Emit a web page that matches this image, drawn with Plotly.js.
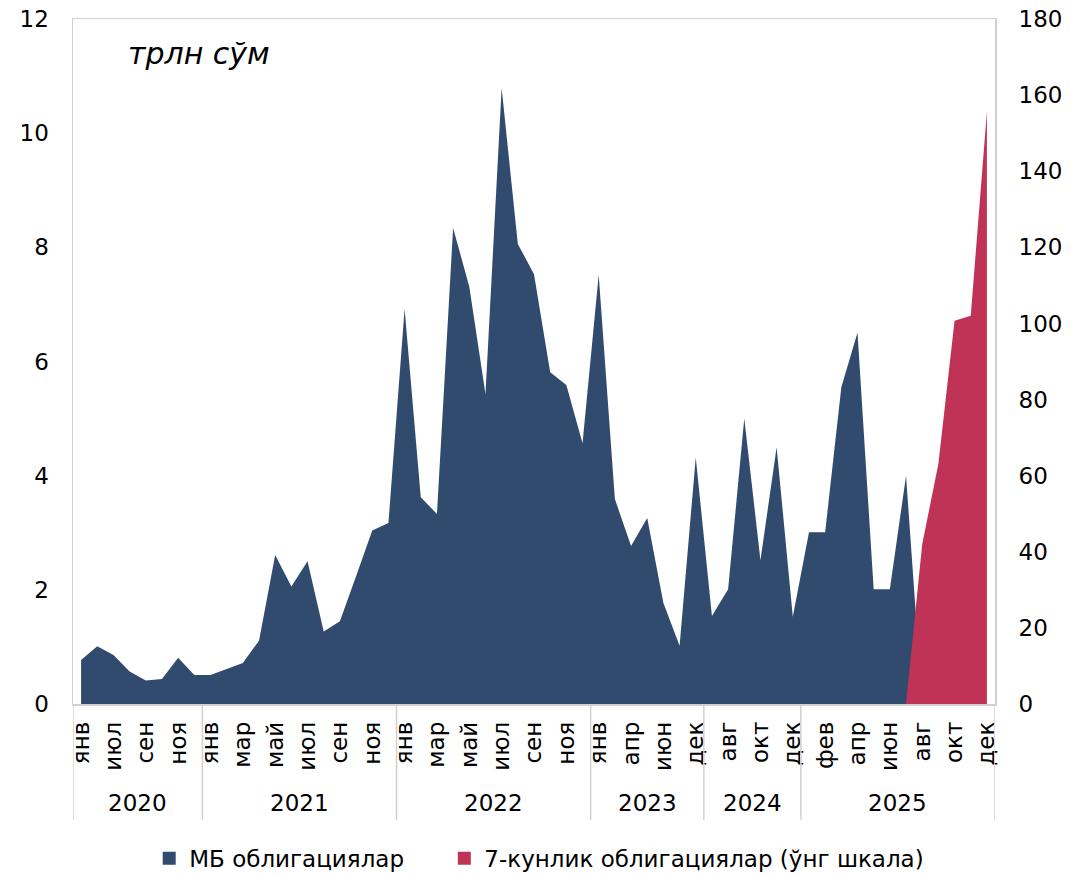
<!DOCTYPE html>
<html>
<head>
<meta charset="utf-8">
<script src="https://cdn.plot.ly/plotly-3.0.1.min.js"></script>
<style>
  html, body { margin: 0; padding: 0; background: #ffffff; }
  #chart { width: 1089px; height: 874px; }
</style>
</head>
<body>
<div id="chart"></div>
<script>
// Year of each data point
const years = [
  '2020','2020','2020','2020','2020','2020','2020','2020',
  '2021','2021','2021','2021','2021','2021','2021','2021','2021','2021','2021','2021',
  '2022','2022','2022','2022','2022','2022','2022','2022','2022','2022','2022','2022',
  '2023','2023','2023','2023','2023','2023','2023',
  '2024','2024','2024','2024','2024','2024',
  '2025','2025','2025','2025','2025','2025','2025','2025','2025','2025','2025','2025'
];
// Month of each data point
const months = [
  'янв','апр','июл','авг','сен','окт','ноя','дек',
  'янв','фев','мар','апр','май','июн','июл','авг','сен','окт','ноя','дек',
  'янв','фев','мар','апр','май','июн','июл','авг','сен','окт','ноя','дек',
  'янв','мар','апр','май','июн','окт','дек',
  'июл','авг','сен','окт','ноя','дек',
  'янв','фев','мар','апр','май','июн','июл','авг','сен','окт','ноя','дек'
];
// МБ облигациялар, трлн сўм (left axis)
const mbBonds = [
  0.77, 1.01, 0.86, 0.57, 0.41, 0.44, 0.81, 0.51,
  0.51, 0.61, 0.72, 1.11, 2.61, 2.06, 2.50, 1.27, 1.45, 2.24, 3.04, 3.17,
  6.92, 3.62, 3.33, 8.34, 7.31, 5.43, 10.79, 8.06, 7.53, 5.81, 5.59, 4.57,
  7.52, 3.59, 2.77, 3.26, 1.77, 1.02, 4.32,
  1.54, 2.01, 5.00, 2.52, 4.50, 1.53,
  3.01, 3.01, 5.55, 6.51, 2.01, 2.01, 4.00, 0, null, null, null, null
];
// 7-кунлик облигациялар (right axis)
const sevenDay = [
  null, null, null, null, null, null, null, null,
  null, null, null, null, null, null, null, null, null, null, null, null,
  null, null, null, null, null, null, null, null, null, null, null, null,
  null, null, null, null, null, null, null,
  null, null, null, null, null, null,
  null, null, null, null, null, null, 0, 42.0, 63.1, 100.7, 102.0, 155.7
];
const yearLabels = ['2020','2021','2022','2023','2024','2025'];
const seriesNames = ['МБ облигациялар', '7-кунлик облигациялар (ўнг шкала)'];
const unitLabel = 'трлн сўм';

const NAVY = '#314B6F';
const RED = '#BF3456';
const FONT = 'DejaVu Sans, sans-serif';
const GRID = '#d0d0d0';

const keys = years.map((y, i) => y + '|' + months[i] + '|' + i);
const tickvals = keys.filter((k, i) => i % 2 === 0);
const ticktext = months.filter((m, i) => i % 2 === 0);

const traces = [
  {
    x: keys, y: mbBonds, type: 'scatter', mode: 'lines',
    fill: 'tozeroy', fillcolor: NAVY, line: { width: 0, color: NAVY },
    showlegend: false, yaxis: 'y', hoverinfo: 'skip'
  },
  {
    x: keys, y: sevenDay, type: 'scatter', mode: 'lines',
    fill: 'tozeroy', fillcolor: RED, line: { width: 0, color: RED },
    showlegend: false, yaxis: 'y2', hoverinfo: 'skip'
  },
  {
    x: [null], y: [null], type: 'scatter', mode: 'markers', name: seriesNames[0],
    marker: { symbol: 'square', size: 13, color: NAVY }, yaxis: 'y', legend: 'legend'
  },
  {
    x: [null], y: [null], type: 'scatter', mode: 'markers', name: seriesNames[1],
    marker: { symbol: 'square', size: 13, color: RED }, yaxis: 'y', legend: 'legend2'
  }
];

// Year group boundaries and label positions
const shapes = [];
const annotations = [];
let start = 0;
const bounds = [-0.5];
yearLabels.forEach(yr => {
  const n = years.filter(v => v === yr).length;
  const end = start + n;
  bounds.push(end - 0.5);
  annotations.push({
    xref: 'x', yref: 'paper', x: (start + end - 1) / 2, y: -0.145,
    text: yr, showarrow: false, xanchor: 'center', yanchor: 'middle',
    font: { family: FONT, size: 23, color: '#000' }
  });
  start = end;
});
bounds.forEach(b => {
  shapes.push({
    type: 'line', xref: 'x', yref: 'paper', x0: b, x1: b, y0: 0, y1: -0.169,
    line: { color: GRID, width: 1.5 }
  });
});
annotations.push({
  xref: 'paper', yref: 'paper', x: 0.058, y: 0.95, xanchor: 'left', yanchor: 'middle',
  text: '<i>' + unitLabel + '</i>', showarrow: false,
  font: { family: FONT, size: 30, color: '#000' }
});

const legendBase = {
  orientation: 'h', xanchor: 'left',
  yref: 'container', y: 0.018, yanchor: 'middle', xref: 'container',
  font: { family: FONT, size: 23, color: '#000' }, itemwidth: 30,
  bgcolor: 'rgba(0,0,0,0)'
};

const layout = {
  width: 1089, height: 874,
  margin: { l: 73, r: 94, t: 19, b: 170, autoexpand: false },
  paper_bgcolor: '#ffffff', plot_bgcolor: '#ffffff',
  font: { family: FONT, size: 23, color: '#000' },
  showlegend: true,
  legend: Object.assign({}, legendBase, { x: 0.137 }),
  legend2: Object.assign({}, legendBase, { x: 0.408 }),
  xaxis: {
    type: 'category', range: [-0.5, 56.5], automargin: false,
    tickmode: 'array', tickvals: tickvals, ticktext: ticktext, tickangle: -90,
    showline: true, linecolor: GRID, linewidth: 1.5, mirror: true,
    showgrid: false, zeroline: false, ticks: 'outside', ticklen: 7,
    tickcolor: 'rgba(0,0,0,0)', tickfont: { family: FONT, size: 23 }, fixedrange: true
  },
  yaxis: {
    range: [0, 12], dtick: 2, tick0: 0, showgrid: false, zeroline: false, automargin: false,
    showline: true, linecolor: GRID, linewidth: 1.5, mirror: true,
    ticks: 'outside', ticklen: 18, tickcolor: 'rgba(0,0,0,0)',
    tickfont: { family: FONT, size: 23 }, fixedrange: true
  },
  yaxis2: {
    overlaying: 'y', side: 'right', range: [0, 180], dtick: 20, tick0: 0, automargin: false,
    showgrid: false, zeroline: false, showline: false,
    ticks: 'outside', ticklen: 18, tickcolor: 'rgba(0,0,0,0)',
    tickfont: { family: FONT, size: 23 }, fixedrange: true
  },
  shapes: shapes,
  annotations: annotations
};

Plotly.newPlot('chart', traces, layout, { displayModeBar: false, staticPlot: true });
</script>
</body>
</html>
